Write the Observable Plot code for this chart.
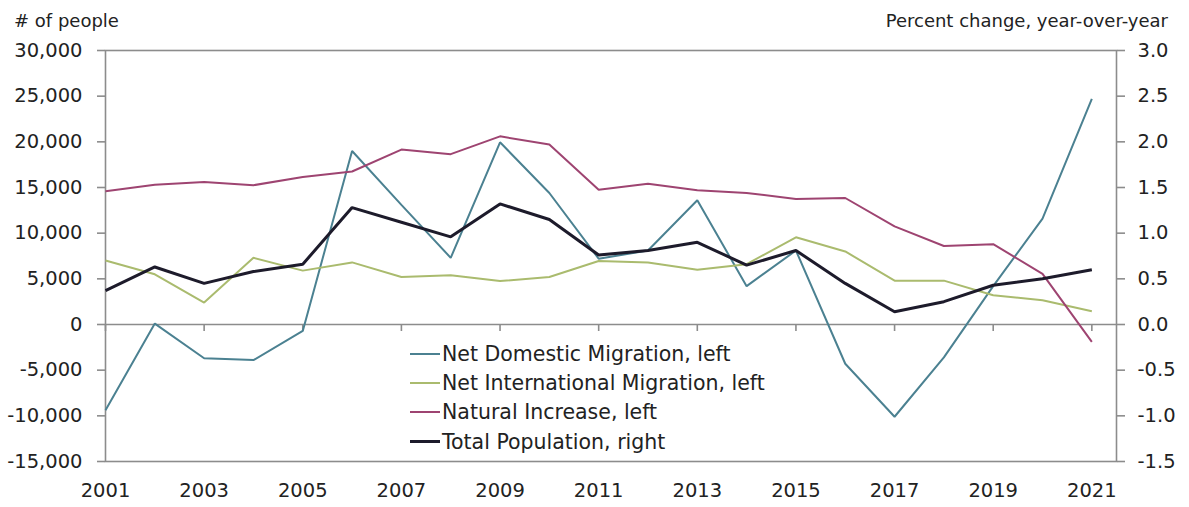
<!DOCTYPE html>
<html>
<head>
<meta charset="utf-8">
<script src="https://cdn.jsdelivr.net/npm/d3@7"></script>
<script src="https://cdn.jsdelivr.net/npm/@observablehq/plot@0.6"></script>
<style>
  body { margin: 0; background: #fff; }
  #chart { position: relative; width: 1189px; height: 507px; font-family: "DejaVu Sans", sans-serif; color: #222; }
  #chart svg { position: absolute; left: 0; top: 0; }
  .axis-title { position: absolute; top: 10px; font-size: 18px; line-height: 22px; white-space: nowrap; }
  #legend { position: absolute; left: 410px; top: 339px; font-size: 20.5px; }
  .row { display: flex; align-items: center; height: 29.3px; white-space: nowrap; }
  .swatch { width: 30px; height: 0; margin-right: 2px; }
</style>
</head>
<body>
<div id="chart"></div>
<script>
// Annual components of population change (left axis, # of people)
// and total population growth (right axis, % y/y).
const years = [2001, 2002, 2003, 2004, 2005, 2006, 2007, 2008, 2009, 2010, 2011,
               2012, 2013, 2014, 2015, 2016, 2017, 2018, 2019, 2020, 2021];
const netDomestic = [-9400, 100, -3700, -3900, -700, 19000, 13100, 7300, 19950, 14400, 7200,
                     8100, 13600, 4200, 8100, -4300, -10100, -3600, 4200, 11600, 24700];
const netInternational = [7000, 5500, 2400, 7300, 5900, 6800, 5200, 5400, 4750, 5200, 6950,
                          6800, 6000, 6600, 9550, 8000, 4800, 4800, 3200, 2650, 1450];
const naturalIncrease = [14600, 15300, 15600, 15250, 16150, 16750, 19150, 18650, 20600, 19700, 14750,
                         15400, 14700, 14400, 13750, 13850, 10750, 8600, 8800, 5550, -1900];
const totalPopulation = [0.37, 0.63, 0.45, 0.58, 0.66, 1.28, 1.12, 0.96, 1.32, 1.15, 0.76,
                         0.81, 0.90, 0.65, 0.81, 0.45, 0.14, 0.25, 0.43, 0.50, 0.60];

const seriesNames = ["Net Domestic Migration, left", "Net International Migration, left",
                     "Natural Increase, left", "Total Population, right"];
const seriesColors = ["#4b8191", "#aabb6e", "#9e4471", "#1d1b2b"];
const seriesWidths = [2, 2, 2, 3];

const leftTicks = [-15000, -10000, -5000, 0, 5000, 10000, 15000, 20000, 25000, 30000];
const rightTicks = [-1.5, -1.0, -0.5, 0.0, 0.5, 1.0, 1.5, 2.0, 2.5, 3.0];
const xTicks = [2001, 2003, 2005, 2007, 2009, 2011, 2013, 2015, 2017, 2019, 2021];

// The right axis shares the left scale: 1.0 % corresponds to 10,000 people.
const RIGHT_FACTOR = 10000;

const valuesBySeries = [netDomestic, netInternational, naturalIncrease,
                        totalPopulation.map(v => v * RIGHT_FACTOR)];
const rows = [];
seriesNames.forEach((name, s) => {
  years.forEach((year, i) => rows.push({series: name, year, value: valuesBySeries[s][i]}));
});

const axisGrey = "#8c8c8c";
const textColor = "#222";

const lineMarks = seriesNames.map((name, s) =>
  Plot.line(rows.filter(d => d.series === name), {
    x: "year", y: "value",
    stroke: seriesColors[s], strokeWidth: seriesWidths[s],
    strokeLinejoin: "miter", strokeLinecap: "butt"
  })
);

const plot = Plot.plot({
  width: 1189,
  height: 507,
  marginLeft: 105,
  marginRight: 73,
  marginTop: 50,
  marginBottom: 46,
  style: {fontFamily: "DejaVu Sans, sans-serif", fontSize: "19.5px", color: textColor, background: "white"},
  x: {domain: [2001, 2021.5]},
  y: {domain: [-15000, 30000]},
  marks: [
    Plot.frame({stroke: axisGrey, strokeWidth: 1.6}),
    Plot.ruleY([0], {stroke: axisGrey, strokeWidth: 1.6}),
    // year ticks hanging below the zero line
    Plot.ruleX(xTicks, {x: d => d, y1: 0, y2: 0, insetBottom: -7, stroke: axisGrey, strokeWidth: 1.6}),
    Plot.axisX(xTicks, {anchor: "bottom", tickSize: 0, tickPadding: 22, tickFormat: d => String(d), fill: textColor, label: null}),
    Plot.axisY(leftTicks, {anchor: "left", tickSize: 8, tickPadding: 15, stroke: axisGrey, strokeWidth: 1.6, fill: textColor,
      tickFormat: d => d.toLocaleString("en-US"), label: null}),
    Plot.axisY(rightTicks.map(v => v * RIGHT_FACTOR), {anchor: "right", tickSize: 8, tickPadding: 13, stroke: axisGrey, strokeWidth: 1.6, fill: textColor,
      tickFormat: d => (d / RIGHT_FACTOR).toFixed(1), label: null}),
    ...lineMarks
  ]
});

const chart = document.getElementById("chart");
chart.appendChild(plot);

const leftTitle = document.createElement("div");
leftTitle.className = "axis-title";
leftTitle.style.left = "14px";
leftTitle.textContent = "# of people";
chart.appendChild(leftTitle);

const rightTitle = document.createElement("div");
rightTitle.className = "axis-title";
rightTitle.style.right = "21px";
rightTitle.textContent = "Percent change, year-over-year";
chart.appendChild(rightTitle);

const legend = document.createElement("div");
legend.id = "legend";
seriesNames.forEach((name, s) => {
  const row = document.createElement("div");
  row.className = "row";
  const sw = document.createElement("span");
  sw.className = "swatch";
  sw.style.borderTop = `${seriesWidths[s]}px solid ${seriesColors[s]}`;
  const label = document.createElement("span");
  label.textContent = name;
  row.appendChild(sw);
  row.appendChild(label);
  legend.appendChild(row);
});
chart.appendChild(legend);
</script>
</body>
</html>
